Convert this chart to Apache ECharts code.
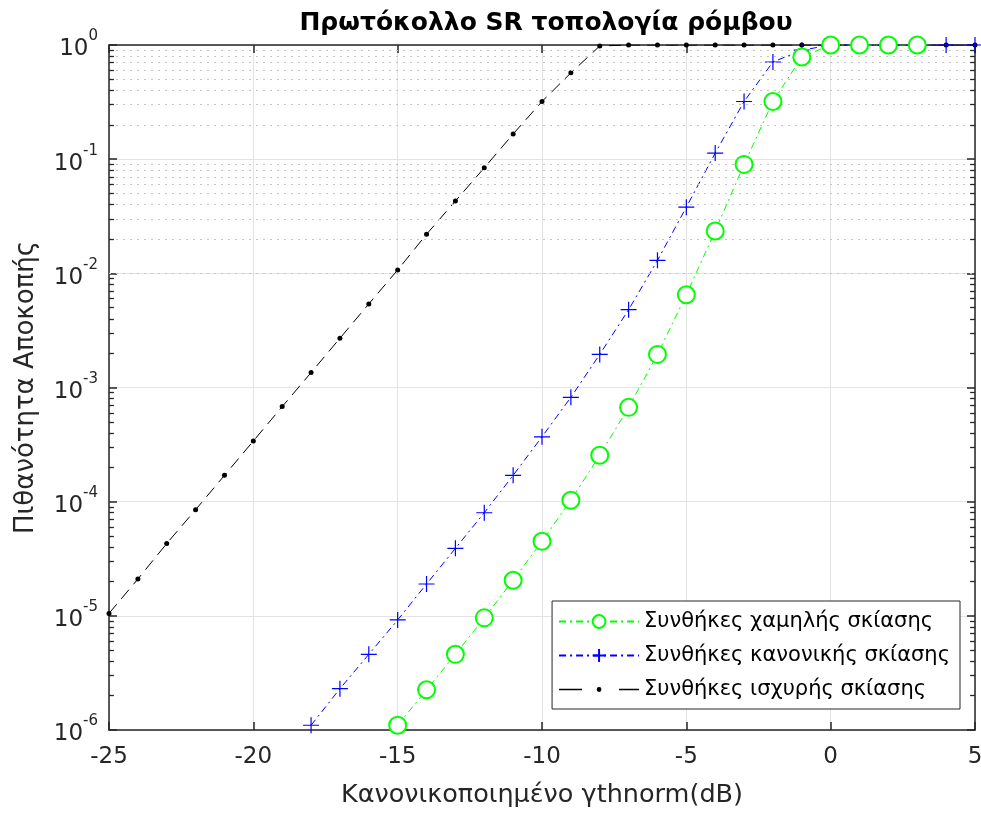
<!DOCTYPE html>
<html>
<head>
<meta charset="utf-8">
<script src="https://cdn.jsdelivr.net/npm/echarts@6/dist/echarts.min.js"></script>
<style>
  html, body { margin: 0; padding: 0; background: #fff; }
  #chart { width: 981px; height: 814px; }
</style>
</head>
<body>
<div id="chart"></div>
<script>
// x values (dB) for each curve
const xStrong = [-25, -24, -23, -22, -21, -20, -19, -18, -17, -16, -15, -14, -13, -12, -11, -10, -9, -8, -7, -6, -5, -4, -3, -2, -1, 0, 1, 2, 3, 4, 5]
const xNormal = [-18, -17, -16, -15, -14, -13, -12, -11, -10, -9, -8, -7, -6, -5, -4, -3, -2, -1, 0, 1, 2, 3, 4, 5]
const xLow = [-15, -14, -13, -12, -11, -10, -9, -8, -7, -6, -5, -4, -3, -2, -1, 0, 1, 2, 3]

// outage probability
const pStrong = [1.05e-5, 2.1e-5, 4.3e-5, 8.5e-5, 1.7e-4, 3.4e-4, 6.8e-4, 1.35e-3, 2.7e-3, 5.4e-3, 1.07e-2, 2.2e-2, 4.3e-2, 8.4e-2, 0.166, 0.32, 0.57, 0.98, 1, 1, 1, 1, 1, 1, 1, 1, 1, 1, 1, 1, 1]
const pNormal = [1.1e-6, 2.3e-6, 4.6e-6, 9.2e-6, 1.9e-5, 3.9e-5, 8e-5, 1.7e-4, 3.7e-4, 8.2e-4, 1.95e-3, 4.8e-3, 1.3e-2, 3.8e-2, 0.113, 0.32, 0.71, 0.9, 1, 1, 1, 1, 1, 1]
const pLow = [1.1e-6, 2.25e-6, 4.6e-6, 9.6e-6, 2.05e-5, 4.5e-5, 1.03e-4, 2.55e-4, 6.7e-4, 1.95e-3, 6.5e-3, 2.35e-2, 0.09, 0.32, 0.785, 1, 1, 1, 1]

const seriesNames = ['Συνθήκες χαμηλής σκίασης', 'Συνθήκες κανονικής σκίασης', 'Συνθήκες ισχυρής σκίασης']

const FONT = '"DejaVu Sans", "Liberation Sans", Arial, sans-serif'
const TXT = '#262626'
const X_MIN = -25
const X_MAX = 5

// minor grid positions on the log axis: 2..9 x 10^n
const minorVals = []
for (let n = -6; n < 0; n++) {
  for (let k = 2; k <= 9; k++) minorVals.push(k * Math.pow(10, n))
}
const minorGrid = minorVals.map((v) => ({ yAxis: v }))
// short inside minor ticks on left and right frame
const minorTicks = []
minorVals.forEach((v) => {
  minorTicks.push([{ coord: [X_MIN, v] }, { coord: [X_MIN + 0.17, v] }])
  minorTicks.push([{ coord: [X_MAX - 0.17, v] }, { coord: [X_MAX, v] }])
})

const zip = (xs, ys) => xs.map((x, i) => [x, ys[i]])

const frameAxis = {
  axisLine: { show: true, onZero: false, lineStyle: { color: TXT, width: 1.5 } },
  axisTick: { inside: true, length: 8, lineStyle: { color: TXT, width: 1.5 } }
}

const chart = echarts.init(document.getElementById('chart'))
chart.setOption({
  backgroundColor: '#fff',
  animation: false,
  textStyle: { fontFamily: FONT },
  title: {
    text: 'Πρωτόκολλο SR τοπολογία ρόμβου',
    left: 541,
    top: 6,
    textAlign: 'center',
    textStyle: { fontSize: 25, fontWeight: 'bold', color: '#000', fontFamily: FONT }
  },
  grid: { left: 109, right: 6, top: 45, bottom: 84, outerBoundsMode: 'none' },
  legend: {
    orient: 'vertical',
    right: 21,
    top: 601,
    data: [
      { name: seriesNames[0] },
      { name: seriesNames[1] },
      {
        name: seriesNames[2],
        icon: 'path://M0,7.3h23v1.4h-23z M60,7.3h20v1.4h-20z M37.6,8a2.4,2.4 0 1,0 4.8,0a2.4,2.4 0 1,0 -4.8,0z'
      }
    ],
    itemWidth: 80,
    itemHeight: 16,
    itemGap: 13,
    padding: [10, 10, 9, 6],
    backgroundColor: '#fff',
    borderColor: TXT,
    borderWidth: 1,
    textStyle: { fontSize: 21, color: '#000', fontFamily: FONT }
  },
  xAxis: [
    {
      type: 'value',
      min: X_MIN,
      max: X_MAX,
      interval: 5,
      name: 'Κανονικοποιημένο γthnorm(dB)',
      nameLocation: 'middle',
      nameGap: 52,
      nameTextStyle: { fontSize: 25.5, color: TXT },
      ...frameAxis,
      axisLabel: { fontSize: 23, color: TXT, margin: 16 },
      splitLine: { show: true, lineStyle: { color: '#e3e3e3', width: 1 } }
    },
    {
      type: 'value',
      position: 'top',
      min: X_MIN,
      max: X_MAX,
      interval: 5,
      ...frameAxis,
      axisLabel: { show: false },
      splitLine: { show: false }
    }
  ],
  yAxis: [
    {
      type: 'log',
      logBase: 10,
      min: 1e-6,
      max: 1,
      name: 'Πιθανότητα Αποκοπής',
      nameLocation: 'middle',
      nameGap: 70,
      nameTextStyle: { fontSize: 26, color: TXT },
      ...frameAxis,
      axisLabel: {
        margin: 11,
        formatter: (v) => '{b|10}{s|' + Math.round(Math.log10(v)) + '}',
        rich: {
          b: { fontSize: 23, color: TXT, fontFamily: FONT, padding: [9, 0, 0, 0] },
          s: { fontSize: 15, color: TXT, fontFamily: FONT, verticalAlign: 'top', padding: [0, 0, 8, 0] }
        }
      },
      splitLine: { show: true, lineStyle: { color: '#e3e3e3', width: 1 } }
    },
    {
      type: 'log',
      logBase: 10,
      min: 1e-6,
      max: 1,
      position: 'right',
      ...frameAxis,
      axisLabel: { show: false },
      splitLine: { show: false }
    }
  ],
  series: [
    {
      name: 'grid-minor',
      type: 'line',
      data: [],
      silent: true,
      markLine: {
        silent: true,
        symbol: 'none',
        label: { show: false },
        lineStyle: { color: '#c4c4c4', type: [2, 5], width: 1 },
        data: minorGrid
      },
      z: 1
    },
    {
      name: 'frame-minor-ticks',
      type: 'line',
      data: [],
      silent: true,
      markLine: {
        silent: true,
        symbol: 'none',
        label: { show: false },
        lineStyle: { color: TXT, type: 'solid', width: 1.3 },
        data: minorTicks
      },
      z: 6
    },
    {
      name: seriesNames[2],
      type: 'line',
      data: zip(xStrong, pStrong),
      symbol: 'circle',
      symbolSize: 5,
      showAllSymbol: true,
      lineStyle: { color: '#000', width: 1, type: [12, 7] },
      itemStyle: { color: '#000' },
      z: 3
    },
    {
      name: seriesNames[1],
      type: 'line',
      data: zip(xNormal, pNormal),
      symbol: 'path://M0,5 L10,5 M5,0 L5,10',
      symbolSize: 16,
      showAllSymbol: true,
      lineStyle: { color: '#0000ff', width: 1, type: [7, 4, 2, 4] },
      itemStyle: { color: 'none', borderColor: '#0000ff', borderWidth: 1.2 },
      z: 4
    },
    {
      name: seriesNames[0],
      type: 'line',
      data: zip(xLow, pLow),
      symbol: 'emptyCircle',
      symbolSize: 17,
      showAllSymbol: true,
      lineStyle: { color: '#00ff00', width: 1, type: [7, 4, 2, 4] },
      itemStyle: { color: '#00ff00', borderColor: '#00ff00', borderWidth: 1.1 },
      z: 5
    }
  ]
})
</script>
</body>
</html>
